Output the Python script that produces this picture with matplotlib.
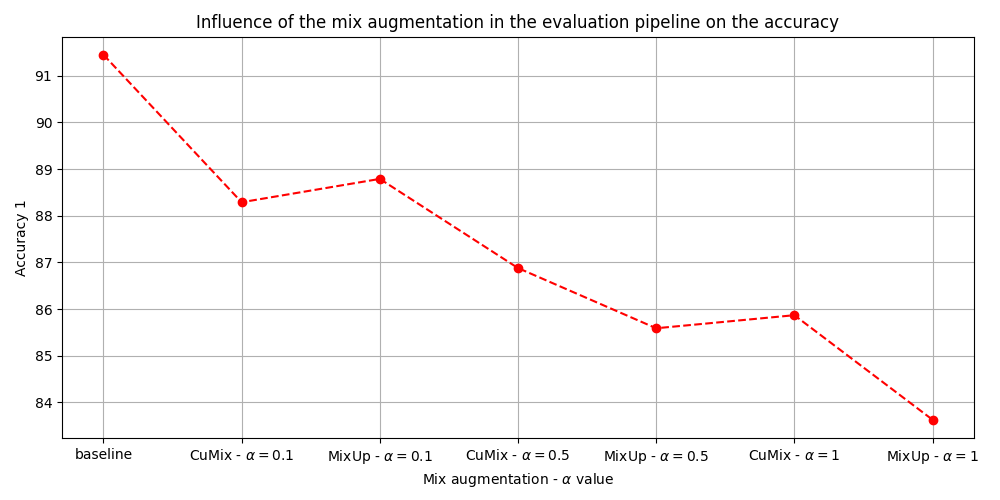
import matplotlib
matplotlib.use("Agg")
import matplotlib.pyplot as plt

labels = ["baseline",
          r"CuMix - $\alpha=0.1$", r"MixUp - $\alpha=0.1$",
          r"CuMix - $\alpha=0.5$", r"MixUp - $\alpha=0.5$",
          r"CuMix - $\alpha=1$", r"MixUp - $\alpha=1$"]
accuracy = [91.45, 88.29, 88.79, 86.88, 85.59, 85.87, 83.63]

fig, ax = plt.subplots(figsize=(10, 5), dpi=100)
ax.plot(labels, accuracy, "o--", color="red")
ax.set_title("Influence of the mix augmentation in the evaluation pipeline on the accuracy")
ax.set_xlabel(r"Mix augmentation - $\alpha$ value")
ax.set_ylabel("Accuracy 1")
ax.grid(True)
fig.subplots_adjust(left=0.062, right=0.974, top=0.927, bottom=0.124)
fig.savefig("out.png")
